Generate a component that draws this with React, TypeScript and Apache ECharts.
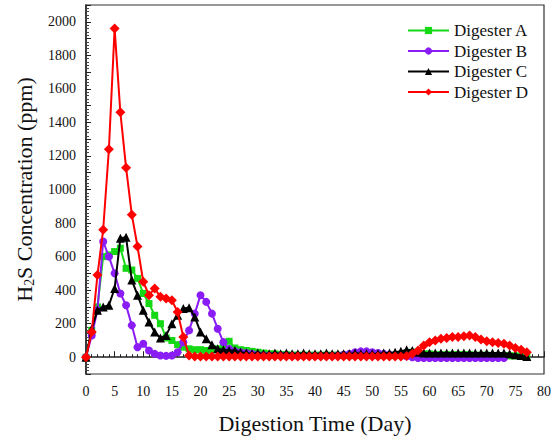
import React, { useEffect, useRef } from "react";
import * as echarts from "echarts";

const days: number[] = Array.from({ length: 78 }, (_, i) => i);

const digesterA = [0,160,300,600,610,630,650,530,520,470, 380,320,250,200,115,100,75,60,50,45, 45,40,45,50,60,95,55,45,40,35, 30,25,20,20,15,15,12,12,12,12, 12,12,12,12,12,10,10,10,10,10, 10,10,10,10,10,15,20,30,25,20, 20,15,15,15,15,15,15,15,12,12, 12,10,10,10,8,8,5,5];
const digesterB = [0,130,280,690,600,500,380,310,190,60, 80,40,20,10,8,10,30,90,160,260, 370,330,260,170,90,50,35,30,25,20, 15,12,10,10,10,10,8,8,8,8, 8,8,8,8,10,15,20,30,35,35, 30,25,20,15,10,10,5,0,-5,-5, -5,-5,-5,-5,-5,-5,-5,-5,-5,-5, -5,-5,-5,-5];
const digesterC = [0,170,280,300,310,410,710,715,460,370, 280,210,150,115,130,200,250,290,295,240, 150,110,75,50,45,40,40,30,25,20, 25,20,20,25,20,25,20,20,25,20, 20,20,25,20,20,20,20,25,20,20, 20,20,25,25,30,35,45,40,30,25, 25,25,25,25,25,25,25,25,25,25, 25,25,25,25,20,15,10,5];
const digesterD = [0,150,490,760,1240,1960,1460,1130,850,660, 450,370,410,360,350,340,270,120,10,5, 5,5,5,5,5,5,5,5,5,5, 5,5,5,5,5,5,5,5,5,5, 5,5,5,5,5,5,5,5,5,5, 5,5,5,5,5,5,8,20,40,70, 90,100,110,115,120,120,125,130,120,105, 95,90,85,80,70,55,45,30];

const seriesNames = ["Digester A", "Digester B", "Digester C", "Digester D"];
const seriesColors = ["#16d916", "#8a1cf5", "#000000", "#ff0000"];
const seriesSymbols = ["rect", "circle", "triangle", "diamond"];
const seriesSizes = [7, 8, 9, 10];
const seriesValues = [digesterA, digesterB, digesterC, digesterD];

const FONT = "Liberation Serif";

export default function App() {
  const ref = useRef<HTMLDivElement>(null);
  useEffect(() => {
    if (!ref.current) return;
    const chart = echarts.init(ref.current, null, { renderer: "svg" });
    chart.setOption({
      animation: false,
      backgroundColor: "#ffffff",
      textStyle: { fontFamily: FONT },
      grid: {
        left: 86,
        right: 14,
        top: 5,
        bottom: 64,
        show: true,
        borderColor: "#333",
        borderWidth: 1.2,
        containLabel: false,
      },
      legend: {
        orient: "vertical",
        left: 407,
        top: 22,
        itemWidth: 41,
        itemHeight: 9,
        itemGap: 3.5,
        padding: 0,
        textStyle: { fontFamily: FONT, fontSize: 17, color: "#111" },
        data: seriesNames,
      },
      xAxis: {
        type: "value",
        min: 0,
        max: 80,
        interval: 5,
        name: "Digestion Time (Day)",
        nameLocation: "middle",
        nameGap: 38,
        nameTextStyle: { fontFamily: FONT, fontSize: 22, color: "#111" },
        axisLine: { show: true, lineStyle: { color: "#222", width: 1.5 } },
        axisTick: { show: true, inside: true, length: 6, lineStyle: { color: "#222" } },
        minorTick: { show: true, splitNumber: 5, length: 3, lineStyle: { color: "#222" } },
        splitLine: { show: false },
        axisLabel: { fontFamily: FONT, fontSize: 14, color: "#111", margin: 10 },
      },
      yAxis: {
        type: "value",
        min: -100,
        max: 2100,
        interval: 100,
        name: "{n|H}{s|2}{n|S Concentration (ppm)}",
        nameLocation: "middle",
        nameGap: 50,
        nameRotate: 90,
        nameTextStyle: {
          fontFamily: FONT,
          fontSize: 22,
          color: "#111",
          rich: {
            n: { fontFamily: FONT, fontSize: 22, color: "#111" },
            s: { fontFamily: FONT, fontSize: 14, color: "#111", padding: [10, 0, 0, 0] },
          },
        },
        axisLine: { show: true, lineStyle: { color: "#222", width: 1.5 } },
        axisTick: { show: true, inside: true, length: 5, lineStyle: { color: "#222" } },
        minorTick: { show: true, splitNumber: 5, length: 3, lineStyle: { color: "#444" } },
        splitLine: { show: false },
        axisLabel: {
          fontFamily: FONT,
          fontSize: 14,
          color: "#111",
          margin: 10,
          formatter: (v: number) => (v >= 0 && v % 200 === 0 ? String(v) : ""),
        },
      },
      series: seriesNames.map((name, i) => ({
        name,
        type: "line",
        data: seriesValues[i].map((v, j) => [days[j], v]),
        symbol: seriesSymbols[i],
        symbolSize: seriesSizes[i],
        showAllSymbol: true,
        lineStyle: { color: seriesColors[i], width: 2 },
        itemStyle: { color: seriesColors[i] },
        z: 2 + i,
      })),
    });
    return () => chart.dispose();
  }, []);
  return (
    <div
      ref={ref}
      style={{ position: "fixed", left: 0, top: 0, width: 558, height: 439 }}
    />
  );
}
